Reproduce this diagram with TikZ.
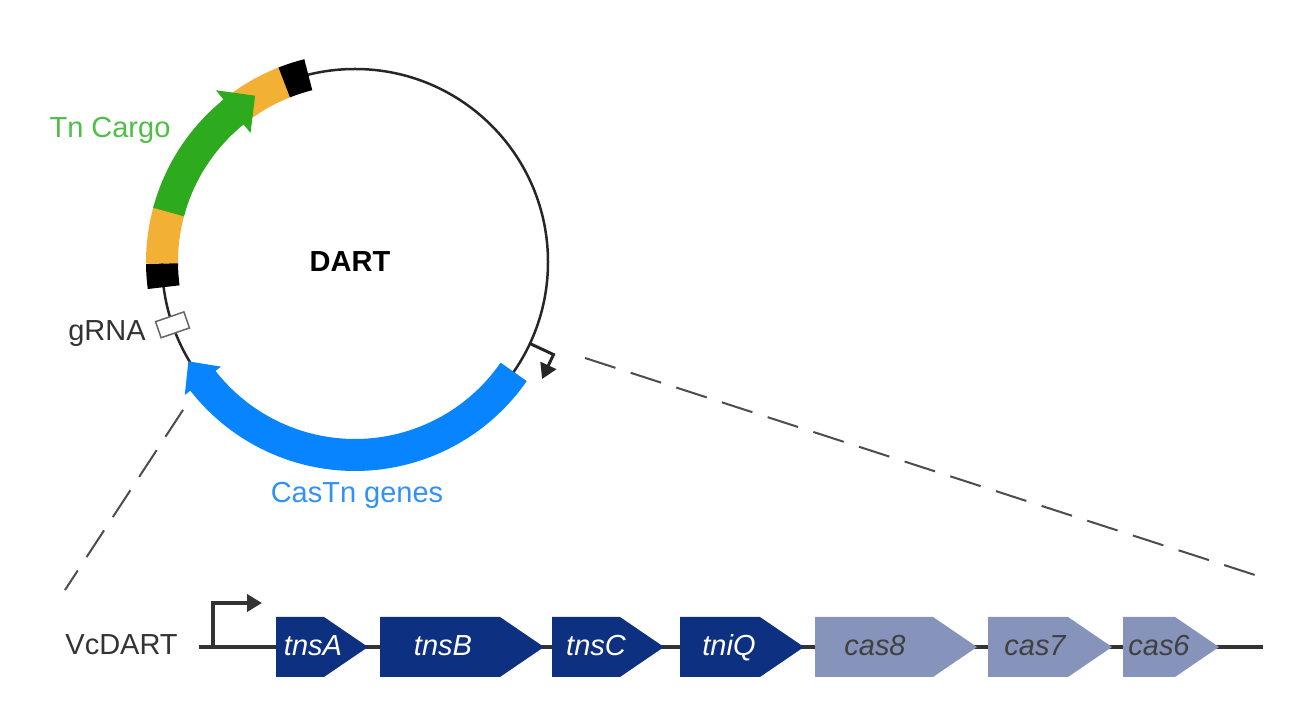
\documentclass[tikz,border=0pt]{standalone}
\usepackage{fontspec}
\setmainfont{Liberation Sans}
\usetikzlibrary{arrows.meta}

\definecolor{cargogreen}{RGB}{45,170,30}
\definecolor{cargotext}{RGB}{80,190,70}
\definecolor{tnorange}{RGB}{242,177,52}
\definecolor{casblue}{RGB}{8,132,255}
\definecolor{castext}{RGB}{50,145,245}
\definecolor{tnsnavy}{RGB}{14,48,128}
\definecolor{cassteel}{RGB}{134,148,188}

\tikzset{
  ribbon/.style={line width=0.64cm},
  backbone/.style={line width=0.05cm, black!85},
  dnaline/.style={line width=0.08cm, black!80},
  zoomline/.style={line width=0.04cm, black!70, dash pattern=on 0.64cm off 0.32cm},
  promtip/.style={-{Triangle[length=0.3cm,width=0.34cm]}},
  plaslabel/.style={font=\fontsize{16.5}{19}\selectfont, inner sep=0pt, anchor=base},
  genelabel/.style={font=\fontsize{16.5}{19}\selectfont\itshape, inner sep=0pt, anchor=base},
}

\begin{document}
\begin{tikzpicture}[x=0.02cm, y=0.02cm]
  \useasboundingbox (0,0) rectangle (1296,706);

  % plasmid
  \begin{scope}[shift={(355,444)}]
    \draw[backbone] (0,0) circle[radius=193];
    \draw[ribbon, tnorange] (180.5:193) arc[start angle=180.5, end angle=164, radius=193];
    \draw[ribbon, tnorange] (130:193) arc[start angle=130, end angle=111, radius=193];
    \draw[ribbon, cargogreen] (165:193) arc[start angle=165, end angle=128.5, radius=193];
    \fill[cargogreen] (129:221) -- (121:194) -- (129:166) -- cycle;
    \draw[ribbon, black] (187.5:193) arc[start angle=187.5, end angle=180.5, radius=193];
    \draw[ribbon, black] (111.5:193) arc[start angle=111.5, end angle=104, radius=193];
    \draw[ribbon, casblue] (325.3:193) arc[start angle=325.3, end angle=217.5, radius=193];
    \fill[casblue] (218:216) -- (210.8:194) -- (218:170) -- cycle;
    \node[draw=black!60, fill=white, line width=0.03cm, inner sep=0pt,
          minimum width=0.6cm, minimum height=0.34cm, rotate=19] (grna) at (199:193) {};
    \draw[backbone, line width=0.06cm, promtip] (335:193) -- (335:219) -- ++(245:27);
    \node[plaslabel, font=\fontsize{16.5}{19}\selectfont\bfseries] (dart) at (-5,-10) {DART};
  \end{scope}

  \node[plaslabel, text=cargotext] (cargo) at (110,568) {Tn Cargo};
  \node[plaslabel, anchor=base east, text=black!80] (grnalab) at (146,365) {gRNA};
  \node[plaslabel, text=castext] (caslab) at (357,203) {CasTn genes};

  % zoom lines
  \coordinate (zoomL) at (183,296);
  \coordinate (zoomLend) at (65,116);
  \coordinate (zoomR) at (585,348);
  \coordinate (zoomRend) at (1258,130);
  \draw[zoomline] (zoomL) -- (zoomLend);
  \draw[zoomline] (zoomR) -- (zoomRend);

  % operon
  \node[plaslabel, anchor=base east, text=black!80] (vcdart) at (178,51) {VcDART};
  \coordinate (dnastart) at (199,59);
  \coordinate (dnaend) at (1263,59);
  \draw[dnaline] (dnastart) -- (dnaend);
  \coordinate (prom) at (213,59);
  \coordinate (promend) at (262,103);
  \draw[dnaline, promtip] (prom) |- (promend);

  \foreach \g/\xa/\xb/\xt/\fc/\tc in {tnsA/276/324/313/tnsnavy/white,
      tnsB/380/500/443/tnsnavy/white, tnsC/552/620/596/tnsnavy/white,
      tniQ/680/760/729/tnsnavy/white, cas8/815/933/875/cassteel/black!75,
      cas7/988/1068/1035/cassteel/black!75, cas6/1123/1175/1159/cassteel/black!75} {
    \fill[\fc] (\xa,89) -- (\xb,89) -- (\xb+44,59) -- (\xb,29) -- (\xa,29) -- cycle;
    \node[genelabel, text=\tc] (\g) at (\xt,50) {\g};
  }
\end{tikzpicture}
\end{document}
